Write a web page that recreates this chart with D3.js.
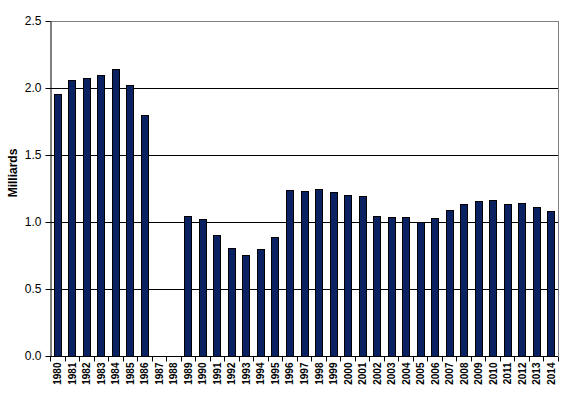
<!DOCTYPE html>
<html>
<head>
<meta charset="utf-8">
<script src="https://cdn.jsdelivr.net/npm/d3@7"></script>
<style>
  body { margin: 0; background: #fff; }
  svg { display: block; font-family: "Liberation Sans", Arial, sans-serif; }
</style>
</head>
<body>
<div id="chart"></div>
<script>
const years = d3.range(1980, 2015).map(String);
const values = [1.953, 2.057, 2.072, 2.094, 2.139, 2.020, 1.800, null, null,
  1.043, 1.020, 0.900, 0.804, 0.751, 0.796, 0.886, 1.237, 1.229, 1.244, 1.222,
  1.199, 1.192, 1.043, 1.035, 1.035, 0.998, 1.028, 1.087, 1.132, 1.154, 1.162,
  1.132, 1.140, 1.114, 1.080];
const yTicks = [0, 0.5, 1.0, 1.5, 2.0, 2.5];
const yTitle = "Milliards";

const width = 566, height = 397;
const margin = {top: 21, right: 8, bottom: 41, left: 50};
const w = width - margin.left - margin.right;
const h = height - margin.top - margin.bottom;

const data = years.map((y, i) => ({year: y, value: values[i]}));

const svg = d3.select("#chart").append("svg")
    .attr("width", width)
    .attr("height", height);

const g = svg.append("g")
    .attr("transform", `translate(${margin.left},${margin.top})`);

const x = d3.scaleBand().domain(years).range([0, w]).paddingInner(0.52).paddingOuter(0.26);
const y = d3.scaleLinear().domain([0, 2.5]).range([h, 0]);

// gridlines
g.selectAll("line.grid")
    .data(yTicks.filter(d => d > 0))
    .enter()
    .append("line")
    .attr("class", "grid")
    .attr("x1", 0)
    .attr("x2", w)
    .attr("y1", d => Math.round(y(d)) + 0.5)
    .attr("y2", d => Math.round(y(d)) + 0.5)
    .attr("stroke", d => d === 2.5 ? "#808080" : "#000")
    .attr("stroke-width", 1);

// right border
g.append("line")
    .attr("x1", w + 0.5).attr("x2", w + 0.5)
    .attr("y1", y(2.5)).attr("y2", h)
    .attr("stroke", "#808080");

// bars
g.selectAll("rect.bar")
    .data(data.filter(d => d.value != null))
    .enter()
    .append("rect")
    .attr("class", "bar")
    .attr("x", d => Math.round(x(d.year)) + 0.5)
    .attr("y", d => Math.round(y(d.value)) + 0.5)
    .attr("width", Math.round(x.bandwidth()))
    .attr("height", d => h - Math.round(y(d.value)))
    .attr("fill", "#0a2262")
    .attr("stroke", "#000")
    .attr("stroke-width", 1);

// y axis
const yAxis = g.append("g")
    .attr("transform", "translate(0.5,0)")
    .call(d3.axisLeft(y).tickValues(yTicks).tickFormat(d3.format(".1f")).tickSize(5).tickSizeOuter(0));
yAxis.select(".domain").attr("stroke", "#000");
yAxis.selectAll(".tick line").attr("stroke", "#000");
yAxis.selectAll(".tick text")
    .attr("x", -9)
    .attr("font-size", "12px")
    .attr("fill", "#000")
    .attr("font-family", "Liberation Sans, Arial, sans-serif");

// x axis
const step = x.step();
const xAxis = g.append("g")
    .attr("transform", `translate(0,${h + 0.5})`);
xAxis.append("line")
    .attr("x1", 0).attr("x2", w)
    .attr("stroke", "#000");
xAxis.selectAll("line.xtick")
    .data(d3.range(0, years.length + 1))
    .enter()
    .append("line")
    .attr("class", "xtick")
    .attr("x1", i => Math.round(i * step) + 0.5)
    .attr("x2", i => Math.round(i * step) + 0.5)
    .attr("y1", 0)
    .attr("y2", 5)
    .attr("stroke", "#000");
xAxis.selectAll("text")
    .data(years)
    .enter()
    .append("text")
    .attr("transform", d => `translate(${x(d) + x.bandwidth() / 2 + 4},6) rotate(-90)`)
    .attr("text-anchor", "end")
    .attr("font-size", "10px")
    .attr("font-weight", "bold")
    .attr("fill", "#000")
    .text(d => d);

// y title
svg.append("text")
    .attr("transform", "translate(17,173) rotate(-90)")
    .attr("text-anchor", "middle")
    .attr("font-size", "12px")
    .attr("font-weight", "bold")
    .attr("fill", "#000")
    .text(yTitle);
</script>
</body>
</html>
